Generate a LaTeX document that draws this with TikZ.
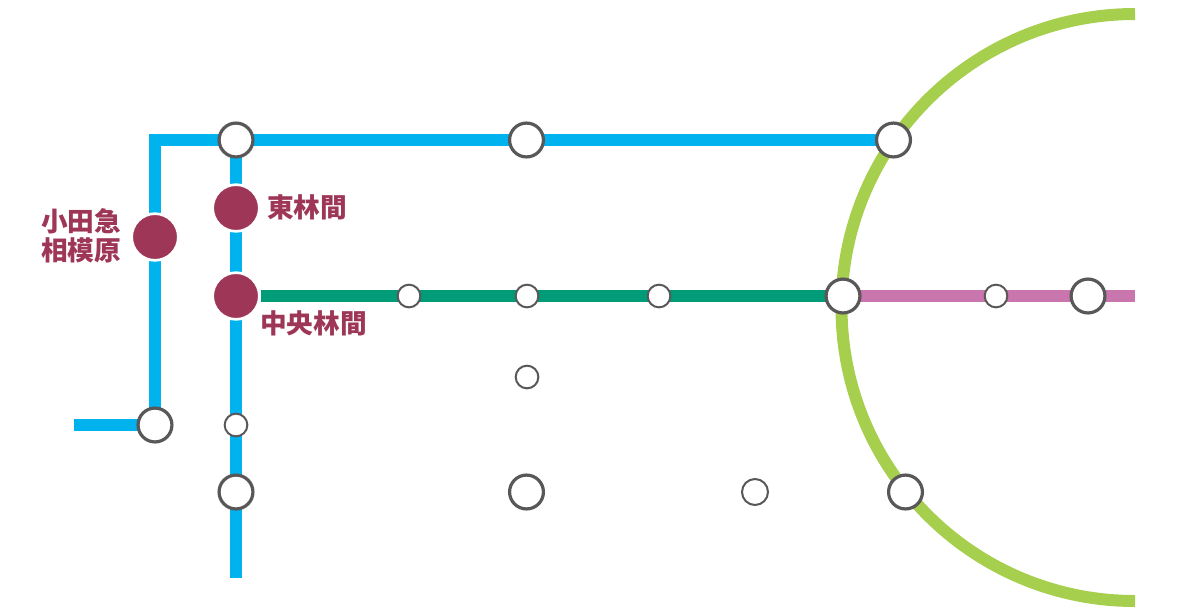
\documentclass[tikz,border=0pt]{standalone}
\usepackage{fontspec}
\newfontfamily\cjk{Noto Sans CJK JP}
\usetikzlibrary{backgrounds}
\definecolor{skyline}{RGB}{0,178,238}
\definecolor{greenline}{RGB}{0,155,119}
\definecolor{pinkline}{RGB}{201,118,174}
\definecolor{limeline}{RGB}{166,207,78}
\definecolor{rimgrey}{RGB}{89,87,87}
\definecolor{maroon}{RGB}{158,55,87}
\tikzset{
	bigstn/.style={circle,draw=rimgrey,fill=white,line width=2.4pt,inner sep=0pt,minimum size=25.4pt},
	smallstn/.style={circle,draw=rimgrey,fill=white,line width=1.5pt,inner sep=0pt,minimum size=17pt},
	midstn/.style={smallstn,minimum size=19.5pt},
	mainstn/.style={circle,draw=white,fill=maroon,line width=2pt,inner sep=0pt,minimum size=35pt},
	railway/.style={line width=9pt},
	stnname/.style={text=maroon,font=\cjk\bfseries\fontsize{20pt}{21.75pt}\selectfont,inner sep=0pt,align=center},
}

\begin{document}
\begin{tikzpicture}[x=0.75pt,y=0.75pt,yscale=-1,xscale=1]
	\useasboundingbox (0,0) rectangle (1201,611);

	% Stations
	\node[bigstn] (nA) at (236,140) {};
	\node[bigstn] (nB) at (526.5,140) {};
	\node[bigstn] (nC) at (893.5,140) {};
	\node[bigstn] (nD) at (843,296) {};
	\node[bigstn] (nE) at (1088,296) {};
	\node[bigstn] (nF) at (155,425) {};
	\node[bigstn] (nG) at (236,492) {};
	\node[bigstn] (nH) at (526.5,492) {};
	\node[bigstn] (nI) at (905.5,492) {};
	\node[smallstn] (sA) at (409,296) {};
	\node[smallstn] (sB) at (527,296) {};
	\node[smallstn] (sC) at (659,296) {};
	\node[smallstn] (sD) at (996,296) {};
	\node[smallstn] (sE) at (527,377) {};
	\node[smallstn] (sF) at (236,425) {};
	\node[midstn] (sG) at (755,492) {};
	\node[mainstn] (odakyu) at (155,237) {};
	\node[mainstn] (higashi) at (236,208) {};
	\node[mainstn] (chuo) at (236,296) {};

	% Free ends
	\coordinate (corner) at (155,140);
	\coordinate (westend) at (74,425);
	\coordinate (southend) at (236,578);
	\coordinate (eastend) at (1135,296);

	\begin{scope}[on background layer]
		%Curve Lines
		\draw [railway,limeline] (1135,14) arc[start angle=-90,end angle=-270,radius=293.5];
		%Straight Lines
		\draw [railway,skyline] (westend) -- (nF.center);
		\draw [railway,skyline] (nF.center) -- (odakyu.center);
		\draw [railway,skyline] (odakyu.center) -- (corner) -- (nA.center);
		\draw [railway,skyline] (nA.center) -- (nB.center);
		\draw [railway,skyline] (nB.center) -- (nC.center);
		\draw [railway,skyline] (nA.center) -- (higashi.center);
		\draw [railway,skyline] (higashi.center) -- (chuo.center);
		\draw [railway,skyline] (chuo.center) -- (sF.center);
		\draw [railway,skyline] (sF.center) -- (nG.center);
		\draw [railway,skyline] (nG.center) -- (southend);
		\draw [railway,greenline] (chuo) -- (sA.center);
		\draw [railway,greenline] (sA.center) -- (sB.center);
		\draw [railway,greenline] (sB.center) -- (sC.center);
		\draw [railway,greenline] (sC.center) -- (nD.center);
		\draw [railway,pinkline] (nD.center) -- (sD.center);
		\draw [railway,pinkline] (sD.center) -- (nE.center);
		\draw [railway,pinkline] (nE.center) -- (eastend);
	\end{scope}

	% Text Node
	\node[stnname] (lblHigashi) at (307,207) {東林間};
	% Text Node
	\node[stnname] (lblOdakyu) at (81,235.5) {小田急\\相模原};
	% Text Node
	\node[stnname] (lblChuo) at (313.5,323) {中央林間};
\end{tikzpicture}
\end{document}
